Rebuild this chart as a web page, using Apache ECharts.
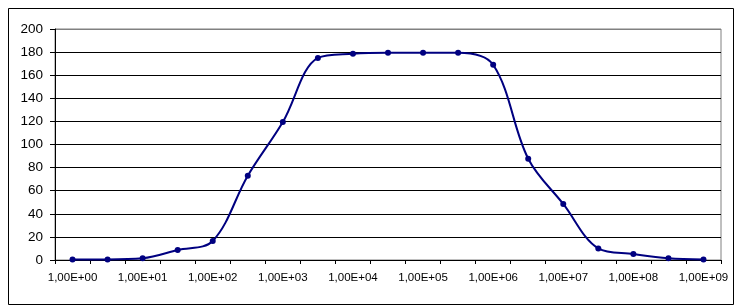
<!DOCTYPE html>
<html>
<head>
<meta charset="utf-8">
<script src="https://cdn.jsdelivr.net/npm/echarts@6/dist/echarts.min.js"></script>
<style>
html,body{margin:0;padding:0;background:#fff;}
#c{width:738px;height:308px;}
</style>
</head>
<body>
<div id="c"></div>
<script>
// Half-decade categories from 1E+00 to 1E+09
const categories = ["1,00E+00","3,16E+00","1,00E+01","3,16E+01","1,00E+02","3,16E+02","1,00E+03","3,16E+03","1,00E+04","3,16E+04","1,00E+05","3,16E+05","1,00E+06","3,16E+06","1,00E+07","3,16E+07","1,00E+08","3,16E+08","1,00E+09"];
const values = [0.5, 0.5, 1.5, 8.7, 16.5, 73, 119.5, 175, 178.6, 179.5, 179.5, 179.5, 169, 87.7, 48.5, 10, 5.2, 1.5, 0.5];
const yTicks = [0, 20, 40, 60, 80, 100, 120, 140, 160, 180, 200];

const chart = echarts.init(document.getElementById('c'), null, {renderer: 'canvas'});
const gridColors = yTicks.map((v, i) => i === yTicks.length - 1 ? '#808080' : '#000000');
chart.setOption({
  animation: false,
  backgroundColor: '#ffffff',
  graphic: [{
    type: 'rect', left: 6, top: 6, shape: {width: 725, height: 296},
    style: {fill: 'none', stroke: '#000000', lineWidth: 1}, z: 100
  }],
  grid: {left: 55, right: 17, top: 29, bottom: 48, show: true, borderColor: '#808080', borderWidth: 1, backgroundColor: '#ffffff'},
  xAxis: {
    type: 'category',
    data: categories,
    boundaryGap: true,
    axisLine: {lineStyle: {color: '#000000', width: 1}},
    axisTick: {show: true, interval: 0, length: 4, lineStyle: {color: '#000000'}},
    axisLabel: {interval: 1, color: '#000000', fontFamily: 'Liberation Sans, Arial', fontSize: 11.5, margin: 12}
  },
  yAxis: {
    type: 'value',
    min: yTicks[0], max: yTicks[yTicks.length - 1], interval: 20,
    axisLine: {show: true, lineStyle: {color: '#000000', width: 1}},
    axisTick: {show: true, length: 5, lineStyle: {color: '#000000'}},
    axisLabel: {color: '#000000', fontFamily: 'Liberation Sans, Arial', fontSize: 13.5, margin: 12},
    splitLine: {show: true, lineStyle: {color: gridColors, width: 1}}
  },
  series: [{
    type: 'line',
    data: values,
    smooth: 0.35,
    symbol: 'circle',
    symbolSize: 6,
    lineStyle: {color: '#000080', width: 2},
    itemStyle: {color: '#000080'},
    z: 5
  }]
});
</script>
</body>
</html>
